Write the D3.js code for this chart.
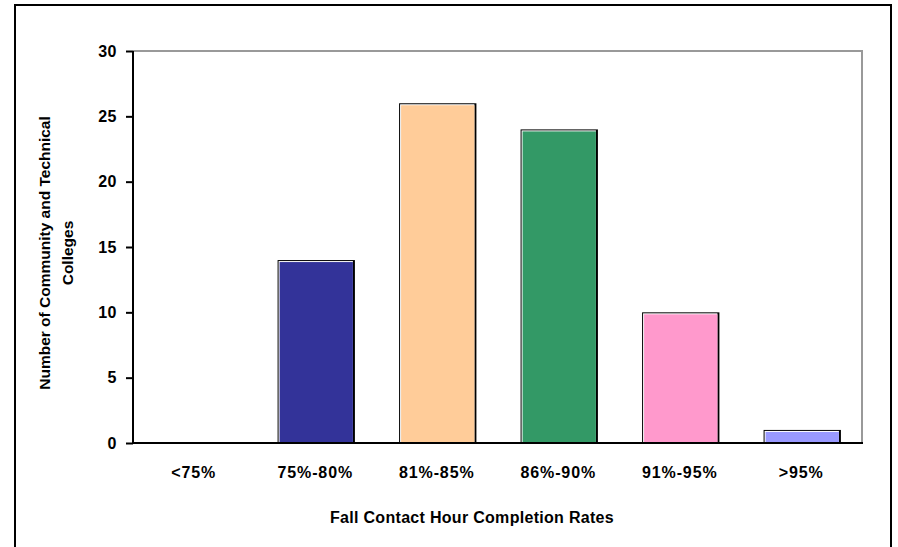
<!DOCTYPE html>
<html><head><meta charset="utf-8">
<script src="https://cdn.jsdelivr.net/npm/d3@7"></script>
<style>body{margin:0;background:#fff}svg{display:block}text{font-family:"Liberation Sans",Arial,sans-serif;font-weight:bold;fill:#000}</style>
</head><body>
<script>
const categories = ["<75%","75%-80%","81%-85%","86%-90%","91%-95%",">95%"];
const values = [0,14,26,24,10,1];
const colors = ["#333399","#333399","#FFCC99","#339966","#FF99CC","#9999FF"];
const yTicks = [0,5,10,15,20,25,30];

const W=898,H=547;
const svg=d3.select("body").append("svg").attr("width",W).attr("height",H);
// outer frame
svg.append("rect").attr("x",15).attr("y",5).attr("width",876).attr("height",560)
  .attr("fill","none").attr("stroke","#000").attr("stroke-width",2);

const L=133,R=862,T=51,B=443;
const x=d3.scaleBand().domain(categories).range([L,R]).paddingInner(0.38).paddingOuter(0.19);
const y=d3.scaleLinear().domain([0,30]).range([B,T]);

// plot border gray
svg.append("path").attr("d",`M${L},${T}H${R}V${B}`).attr("fill","none").attr("stroke","#999").attr("stroke-width",2);

// bars
const g=svg.append("g");
categories.forEach((c,i)=>{
  const v=values[i]; if(v<=0) return;
  const bx=x(c), bw=x.bandwidth(), by=y(v), bh=B-y(v);
  g.append("rect").attr("x",bx).attr("y",by).attr("width",bw+2).attr("height",bh).attr("fill","#000");
  g.append("rect").attr("x",bx+1).attr("y",by+1).attr("width",bw-1).attr("height",bh-1).attr("fill","#fff");
  g.append("rect").attr("x",bx+2).attr("y",by+2).attr("width",bw-2).attr("height",bh-2).attr("fill",colors[i]);
});

// y axis
const ya=svg.append("g").attr("transform",`translate(${L},0)`)
  .call(d3.axisLeft(y).tickValues(yTicks).tickSize(7).tickPadding(9));
ya.select(".domain").attr("stroke","#000").attr("stroke-width",2).attr("d",`M0,${B}V${T}`);
ya.selectAll(".tick line").attr("stroke","#000").attr("stroke-width",2);
ya.selectAll("text").style("font-size","16px").style("letter-spacing","0.5px").attr("fill","#000");

// x axis
const xa=svg.append("g").attr("transform",`translate(0,${B})`)
  .call(d3.axisBottom(x).tickSize(0).tickPadding(24));
xa.select(".domain").attr("stroke","#000").attr("stroke-width",2).attr("d",`M${L},0H${R+1}`);
xa.selectAll("text").style("font-size","16px").style("letter-spacing","0.9px").attr("fill","#000");

// titles
svg.append("text").attr("x",472).attr("y",523).attr("text-anchor","middle")
  .style("font-size","16px").style("letter-spacing","0.3px").text("Fall Contact Hour Completion Rates");
const yt=svg.append("text").attr("transform",`translate(0,${(T+B)/2+6}) rotate(-90)`).attr("text-anchor","middle").style("font-size","15.5px");
yt.append("tspan").attr("x",0).attr("y",50).text("Number of Community and Technical");
yt.append("tspan").attr("x",0).attr("y",73).text("Colleges");
</script>
</body></html>
